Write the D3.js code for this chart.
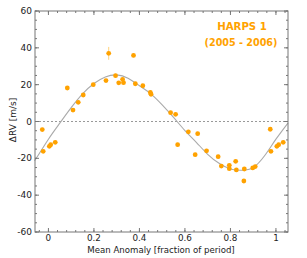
<!DOCTYPE html>
<html>
<head>
<meta charset="utf-8">
<script src="https://d3js.org/d3.v7.min.js"></script>
<style>
  body { margin: 0; background: #fff; }
  text { font-family: "DejaVu Sans", sans-serif; }
</style>
</head>
<body>
<div id="chart"></div>
<script>
// phase (fraction of period) and RV residuals [m/s]
var phase = [-0.027, -0.023, 0.004, 0.010, 0.030, 0.083, 0.108, 0.131, 0.153, 0.197,
             0.253, 0.265, 0.295, 0.309, 0.326, 0.330, 0.374, 0.382, 0.415, 0.448,
             0.451, 0.537, 0.559, 0.568, 0.615, 0.645, 0.656, 0.695, 0.746, 0.760,
             0.795, 0.795, 0.823, 0.826, 0.859, 0.861, 0.898, 0.909, 0.975, 0.978,
             1.004, 1.012, 1.032];
var rv = [-4.4, -16.2, -13.5, -12.6, -11.3, 18.2, 6.2, 10.4, 14.4, 20.0,
          22.2, 37.0, 24.9, 21.0, 22.9, 21.1, 35.9, 20.5, 19.4, 15.8,
          14.8, 4.8, 3.9, -12.6, -5.6, -18.0, -6.6, -15.9, -19.1, -24.2,
          -23.8, -25.6, -21.6, -26.3, -32.3, -25.8, -25.2, -24.5, -4.2, -16.2,
          -13.5, -12.6, -11.3];
var rvErr = [1, 1, 1, 1, 1, 1, 1, 1, 1, 1,
             1, 3.5, 1, 1, 1, 1, 1, 1, 1, 1,
             1, 1, 1, 1, 1, 1, 1, 1, 1, 1,
             1, 1, 1, 1, 1, 1, 1, 1, 1, 1,
             1, 1, 1];

// fitted orbit curve
var fitPhase = [-0.06, -0.05, 0.0, 0.05, 0.1, 0.15, 0.2, 0.25, 0.3, 0.35, 0.4, 0.45,
                0.5, 0.55, 0.6, 0.65, 0.7, 0.75, 0.8, 0.85, 0.9, 0.95, 1.0, 1.053];
var fitRv = [-21, -19.3, -9.6, -0.9, 7.5, 15.0, 20.6, 24.2, 25.3, 23.5, 19.4, 15.0,
             9.0, 2.2, -4.9, -11.3, -17.8, -22.7, -25.8, -26.5, -25.0, -18.6, -9.6, -0.8];

var yTicks = [-60, -40, -20, 0, 20, 40, 60];
var xTicks = [0, 0.2, 0.4, 0.6, 0.8, 1];
var xTickLabels = ["0", "0.2", "0.4", "0.6", "0.8", "1"];

var W = 307, H = 258;
var margin = {top: 11, right: 19, bottom: 26, left: 35};
var innerW = W - margin.left - margin.right,
    innerH = H - margin.top - margin.bottom;

var orange = "#ffa200";
var axisCol = "#777";

var svg = d3.select("#chart").append("svg")
    .attr("width", W).attr("height", H);
var g = svg.append("g")
    .attr("transform", "translate(" + margin.left + "," + margin.top + ")");

var x = d3.scaleLinear().domain([-0.059, 1.053]).range([0, innerW]);
var y = d3.scaleLinear().domain([-60, 60]).range([innerH, 0]);

// zero line
g.append("line")
  .attr("x1", 0).attr("x2", innerW)
  .attr("y1", y(0)).attr("y2", y(0))
  .attr("stroke", "#999").attr("stroke-width", 1)
  .attr("stroke-dasharray", "2,2");

// fit curve
var fit = fitPhase.map(function(p, i) { return [p, fitRv[i]]; });
g.append("path")
  .datum(fit)
  .attr("fill", "none")
  .attr("stroke", "#aaa")
  .attr("stroke-width", 1.1)
  .attr("d", d3.line().x(d => x(d[0])).y(d => y(d[1])).curve(d3.curveNatural));

// data
var pts = phase.map(function(p, i) { return {p: p, v: rv[i], e: rvErr[i]}; });
g.selectAll(".err").data(pts).enter().append("line")
  .attr("x1", d => x(d.p)).attr("x2", d => x(d.p))
  .attr("y1", d => y(d.v - d.e)).attr("y2", d => y(d.v + d.e))
  .attr("stroke", "#ffd27a").attr("stroke-width", 1);
g.selectAll(".dot").data(pts).enter().append("circle")
  .attr("cx", d => x(d.p)).attr("cy", d => y(d.v))
  .attr("r", 2.4).attr("fill", orange);

// frame
g.append("rect")
  .attr("width", innerW).attr("height", innerH)
  .attr("fill", "none").attr("stroke", axisCol).attr("stroke-width", 1);

// ticks (inward, all four sides)
var xMinor = d3.range(-0.04, 1.05, 0.04);
var yMinor = d3.range(-60, 61, 5);
function tick(sel, data, len, side) {
  sel.selectAll(null).data(data).enter().append("line")
    .attr("x1", d => side === "b" || side === "t" ? x(d) : (side === "l" ? 0 : innerW))
    .attr("x2", d => side === "b" || side === "t" ? x(d) : (side === "l" ? len : innerW - len))
    .attr("y1", d => side === "l" || side === "r" ? y(d) : (side === "b" ? innerH : 0))
    .attr("y2", d => side === "l" || side === "r" ? y(d) : (side === "b" ? innerH - len : len))
    .attr("stroke", axisCol).attr("stroke-width", 1);
}
["b", "t"].forEach(function(s) { tick(g, xMinor, 2, s); tick(g, xTicks, 4, s); });
["l", "r"].forEach(function(s) { tick(g, yMinor, 2, s); tick(g, yTicks, 4, s); });

// tick labels
g.selectAll(".yl").data(yTicks).enter().append("text")
  .attr("x", -3).attr("y", d => y(d)).attr("dy", "0.35em")
  .attr("text-anchor", "end").attr("font-size", 9).attr("fill", "#222")
  .text(d => d);
g.selectAll(".xl").data(xTicks).enter().append("text")
  .attr("x", d => x(d)).attr("y", innerH + 9)
  .attr("text-anchor", "middle").attr("font-size", 8.8).attr("fill", "#222")
  .text((d, i) => xTickLabels[i]);

// axis titles
svg.append("text")
  .attr("x", 161).attr("y", 252.5)
  .attr("text-anchor", "middle").attr("font-size", 8.6).attr("fill", "#222")
  .text("Mean Anomaly [fraction of period]");
svg.append("text")
  .attr("transform", "translate(16,120) rotate(-90)")
  .attr("text-anchor", "middle").attr("font-size", 9).attr("fill", "#222")
  .text("ΔRV [m/s]");

// title
svg.append("text")
  .attr("x", 242).attr("y", 30)
  .attr("text-anchor", "middle").attr("font-size", 10.2)
  .attr("font-weight", "bold").attr("fill", orange)
  .text("HARPS 1");
svg.append("text")
  .attr("x", 241).attr("y", 46)
  .attr("text-anchor", "middle").attr("font-size", 9.6)
  .attr("font-weight", "bold").attr("fill", orange)
  .text("(2005 - 2006)");
</script>
</body>
</html>
